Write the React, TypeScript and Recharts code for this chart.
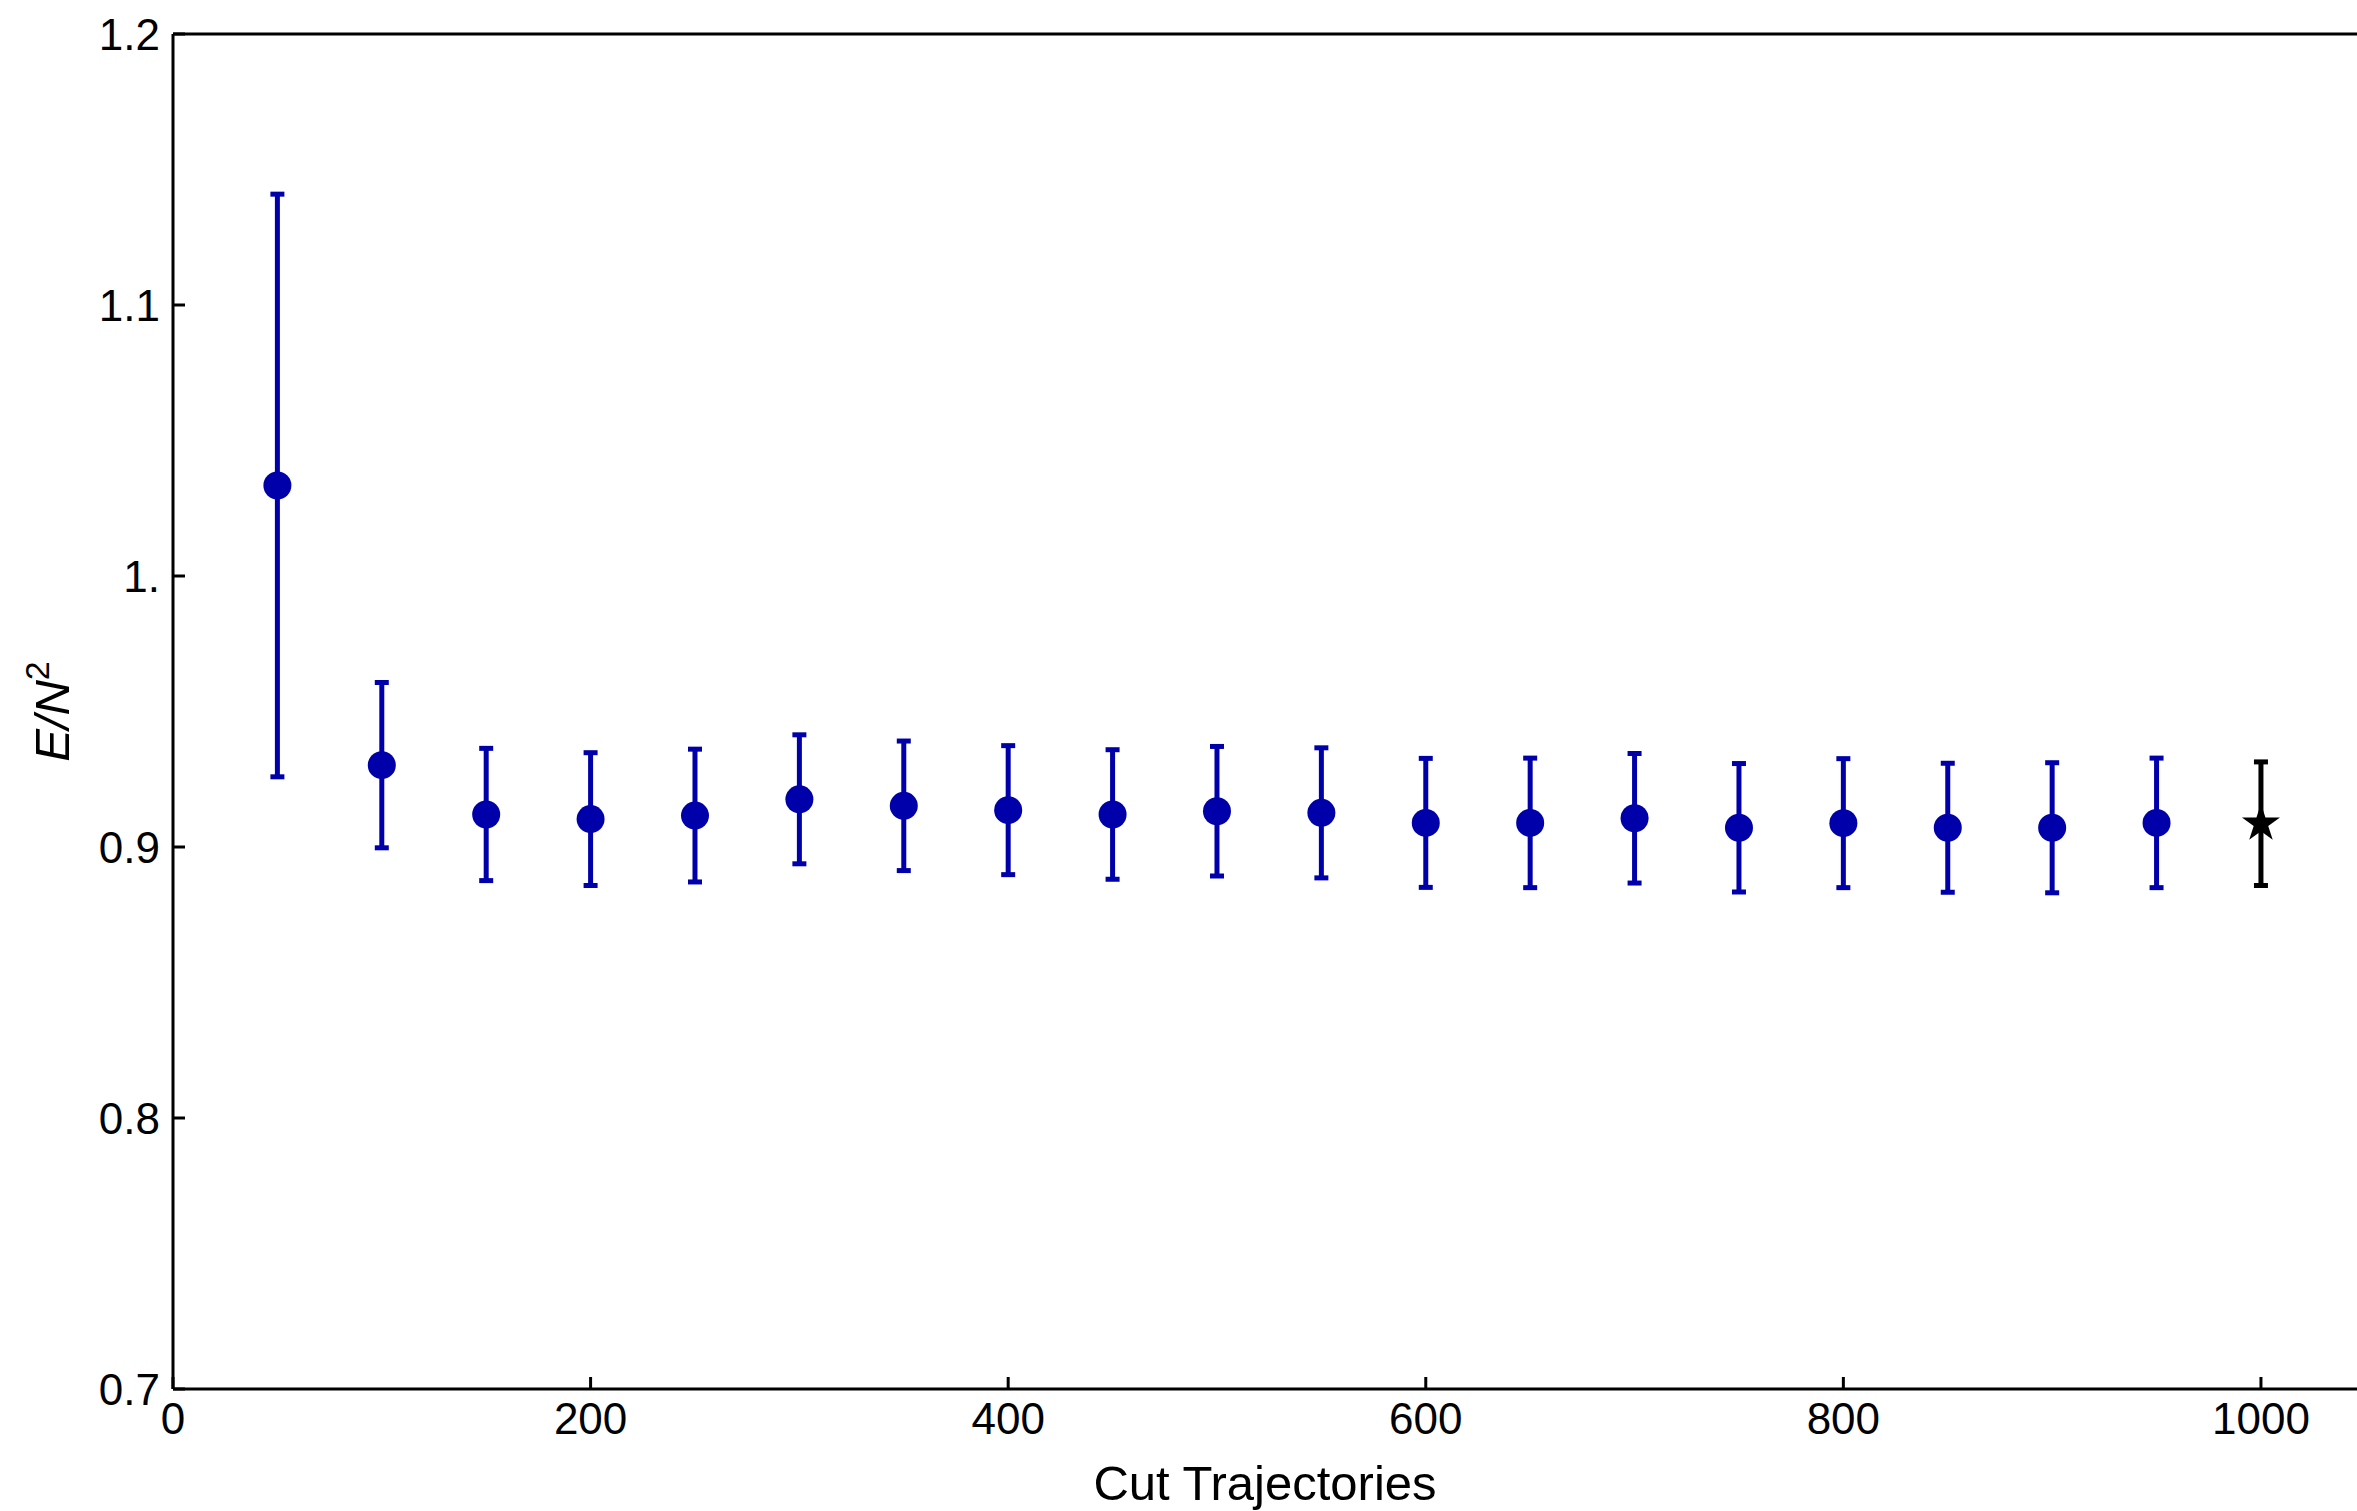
import {
  ErrorBar,
  ReferenceLine,
  Scatter,
  ScatterChart,
  XAxis,
  YAxis,
} from "recharts";

const cuts = [
  50, 100, 150, 200, 250, 300, 350, 400, 450, 500, 550, 600, 650, 700, 750,
  800, 850, 900, 950,
];
const energy = [
  1.0334, 0.9302, 0.912, 0.9103, 0.9116, 0.9176, 0.9152, 0.9136, 0.912,
  0.9132, 0.9126, 0.9089, 0.9089, 0.9106, 0.9071, 0.9088, 0.9071, 0.9071,
  0.9089,
];
const energyErr = [
  0.1075, 0.0305, 0.0244, 0.0245, 0.0245, 0.0238, 0.0239, 0.0238, 0.0239,
  0.0239, 0.024, 0.0238, 0.0239, 0.0239, 0.0237, 0.0238, 0.0238, 0.024,
  0.0239,
];

const fullCut = [1000];
const fullEnergy = [0.9086];
const fullErr = [0.0228];

const xTicks = [0, 200, 400, 600, 800, 1000];
const yTicks = [0.7, 0.8, 0.9, 1.0, 1.1, 1.2];

const cutData = cuts.map((x, i) => ({ x, y: energy[i], err: energyErr[i] }));
const fullData = fullCut.map((x, i) => ({
  x,
  y: fullEnergy[i],
  err: fullErr[i],
}));

const BLUE = "#0000aa";
const FONT = "'Liberation Sans', Arial, Helvetica, sans-serif";

function Dot(props: any) {
  return <circle cx={props.cx} cy={props.cy} r={14} fill={BLUE} />;
}

function Star(props: any) {
  const { cx, cy } = props;
  const R = 20;
  const r = R * 0.382;
  const pts: string[] = [];
  for (let k = 0; k < 10; k++) {
    const a = -Math.PI / 2 + (k * Math.PI) / 5;
    const rad = k % 2 === 0 ? R : r;
    pts.push(`${cx + rad * Math.cos(a)},${cy + rad * Math.sin(a)}`);
  }
  return <polygon points={pts.join(" ")} fill="#000" />;
}

function YLabel(props: any) {
  const vb = props.viewBox;
  const x = vb.x + 69;
  const y = vb.y + vb.height / 2;
  return (
    <text
      x={x}
      y={y}
      textAnchor="middle"
      transform={`rotate(-90, ${x}, ${y})`}
      fontFamily={FONT}
      fontSize={49}
      fill="#000"
    >
      <tspan fontStyle="italic">E/N</tspan>
      <tspan fontSize={34} dy={-20}>
        2
      </tspan>
    </text>
  );
}

export default function App() {
  return (
    <div>
      <style>{"body{margin:0;overflow:hidden}"}</style>
      <ScatterChart
        width={2357}
        height={1511}
        margin={{ top: 34, right: 0, bottom: 0, left: 0 }}
        style={{ fontFamily: FONT }}
      >
        <XAxis
          type="number"
          dataKey="x"
          domain={[0, 1046]}
          ticks={xTicks}
          interval={0}
          height={122}
          axisLine={{ stroke: "#000", strokeWidth: 3 }}
          tickLine={{ stroke: "#000", strokeWidth: 3 }}
          tickSize={-12}
          tickMargin={26}
          tick={{ fill: "#000", fontSize: 44, fontFamily: FONT }}
          label={{
            value: "Cut Trajectories",
            position: "insideBottom",
            offset: 11,
            fill: "#000",
            fontSize: 49,
            fontFamily: FONT,
          }}
        />
        <YAxis
          type="number"
          dataKey="y"
          domain={[0.7, 1.2]}
          ticks={yTicks}
          interval={0}
          width={173}
          axisLine={{ stroke: "#000", strokeWidth: 3 }}
          tickLine={{ stroke: "#000", strokeWidth: 3 }}
          tickSize={-12}
          tickMargin={25}
          tick={{ fill: "#000", fontSize: 44, fontFamily: FONT }}
          tickFormatter={(v: number) => (v === 1 ? "1." : v.toFixed(1))}
          label={{ content: <YLabel /> }}
        />
        <ReferenceLine y={1.2} stroke="#000" strokeWidth={3} />
        <Scatter data={cutData} shape={<Dot />} isAnimationActive={false}>
          <ErrorBar
            dataKey="err"
            direction="y"
            width={7}
            stroke={BLUE}
            strokeWidth={5}
            isAnimationActive={false}
          />
        </Scatter>
        <Scatter data={fullData} shape={<Star />} isAnimationActive={false}>
          <ErrorBar
            dataKey="err"
            direction="y"
            width={7}
            stroke="#000"
            strokeWidth={5}
            isAnimationActive={false}
          />
        </Scatter>
      </ScatterChart>
    </div>
  );
}
